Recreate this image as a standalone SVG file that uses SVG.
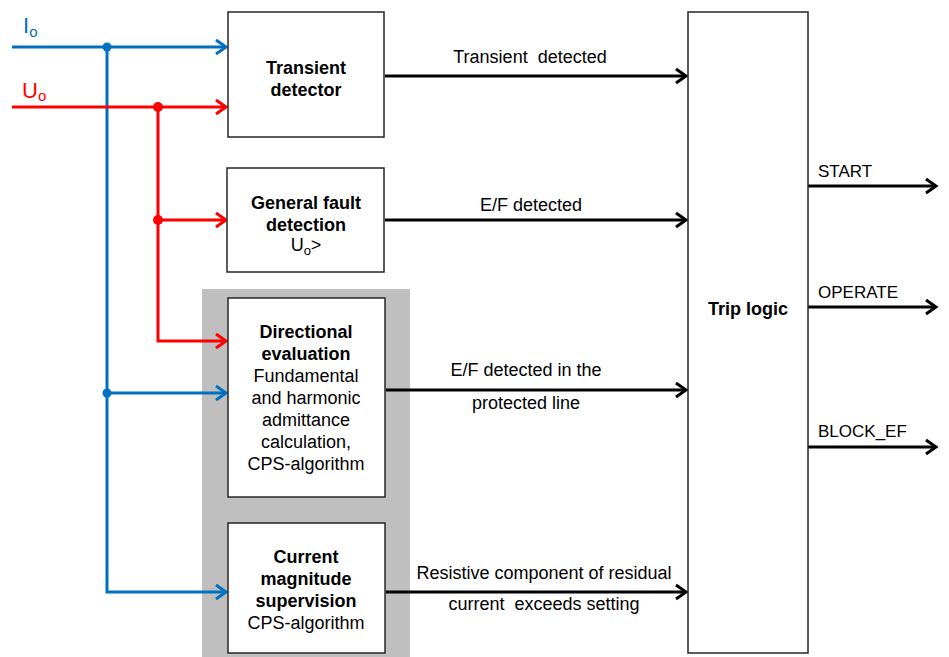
<svg xmlns="http://www.w3.org/2000/svg" width="949" height="657" viewBox="0 0 949 657">
<style>
text{font-family:"Liberation Sans",Arial,sans-serif;font-size:18px;fill:#000}
.b{font-weight:bold}
.m{text-anchor:middle}
.box{fill:#fff;stroke:#262626;stroke-width:1.5}
.k{stroke:#000;stroke-width:3;fill:none}
.bl{stroke:#0070C0;stroke-width:3;fill:none}
.rd{stroke:#FF0000;stroke-width:3;fill:none}
.lab{font-size:17px}
</style>
<defs>
<marker id="ak" markerUnits="userSpaceOnUse" markerWidth="16" markerHeight="18" refX="12" refY="8" orient="auto" overflow="visible"><path d="M2,1 L12,8 L2,15" fill="none" stroke="#000" stroke-width="3"/></marker>
<marker id="ab" markerUnits="userSpaceOnUse" markerWidth="16" markerHeight="18" refX="12" refY="8" orient="auto" overflow="visible"><path d="M2,1 L12,8 L2,15" fill="none" stroke="#0070C0" stroke-width="3"/></marker>
<marker id="ar" markerUnits="userSpaceOnUse" markerWidth="16" markerHeight="18" refX="12" refY="8" orient="auto" overflow="visible"><path d="M2,1 L12,8 L2,15" fill="none" stroke="#FF0000" stroke-width="3"/></marker>
</defs>
<rect x="0" y="0" width="949" height="657" fill="#fff"/>
<rect id="group-bg" x="202" y="289" width="208" height="368" fill="#BFBFBF"/>

<g id="inputs">
<text x="23" y="33" style="font-size:22px;fill:#0070C0">I<tspan style="font-size:15px" dy="4">o</tspan></text>
<text x="22" y="98" style="font-size:22px;fill:#FF0000">U<tspan style="font-size:15px" dy="3">o</tspan></text>
</g>

<g id="connectors">
<line class="bl" x1="12" y1="47" x2="226" y2="47" marker-end="url(#ab)"/>
<polyline class="bl" points="107,47 107,592 226,592" marker-end="url(#ab)"/>
<line class="bl" x1="107" y1="393" x2="226" y2="393" marker-end="url(#ab)"/>
<circle cx="107" cy="47" r="4.5" fill="#0070C0"/>
<circle cx="107" cy="393" r="4.5" fill="#0070C0"/>
<line class="rd" x1="12" y1="107" x2="226" y2="107" marker-end="url(#ar)"/>
<polyline class="rd" points="158,107 158,341 226,341" marker-end="url(#ar)"/>
<line class="rd" x1="158" y1="220" x2="226" y2="220" marker-end="url(#ar)"/>
<circle cx="158" cy="107" r="5" fill="#FF0000"/>
<circle cx="158" cy="220" r="5" fill="#FF0000"/>

<line class="k" x1="385" y1="76" x2="686" y2="76" marker-end="url(#ak)"/>
<line class="k" x1="385" y1="220" x2="686" y2="220" marker-end="url(#ak)"/>
<line class="k" x1="386" y1="390" x2="686" y2="390" marker-end="url(#ak)"/>
<line class="k" x1="386" y1="592" x2="686" y2="592" marker-end="url(#ak)"/>
<line class="k" x1="808" y1="186" x2="936" y2="186" marker-end="url(#ak)"/>
<line class="k" x1="808" y1="307" x2="936" y2="307" marker-end="url(#ak)"/>
<line class="k" x1="808" y1="447" x2="936" y2="447" marker-end="url(#ak)"/>

<text class="m" x="530" y="63" xml:space="preserve">Transient  detected</text>
<text class="m" x="531" y="211">E/F detected</text>
<text class="m" x="526" y="376">E/F detected in the</text>
<text class="m" x="526" y="409">protected line</text>
<text class="m" x="544" y="579">Resistive component of residual</text>
<text class="m" x="544" y="610" xml:space="preserve">current  exceeds setting</text>
<text class="lab" x="818" y="177">START</text>
<text class="lab" x="818" y="298">OPERATE</text>
<text class="lab" x="818" y="437">BLOCK_EF</text>
</g>

<g id="transient-detector">
<rect class="box" x="228" y="12" width="156" height="125"/>
<text class="b m" x="306" y="74">Transient</text>
<text class="b m" x="306" y="96">detector</text>
</g>

<g id="general-fault-detection">
<rect class="box" x="227" y="168" width="157" height="104"/>
<text class="b m" x="306" y="209">General fault</text>
<text class="b m" x="306" y="231">detection</text>
<text class="m" x="306" y="251">U<tspan style="font-size:13px" dy="4">o</tspan><tspan dy="-4">&gt;</tspan></text>
</g>

<g id="directional-evaluation">
<rect class="box" x="228" y="298" width="157" height="199"/>
<text class="b m" x="306" y="338">Directional</text>
<text class="b m" x="306" y="360">evaluation</text>
<text class="m" x="306" y="382">Fundamental</text>
<text class="m" x="306" y="404">and harmonic</text>
<text class="m" x="306" y="426">admittance</text>
<text class="m" x="306" y="448">calculation,</text>
<text class="m" x="306" y="470">CPS-algorithm</text>
</g>

<g id="current-magnitude-supervision">
<rect class="box" x="228" y="523" width="157" height="130"/>
<text class="b m" x="306" y="563">Current</text>
<text class="b m" x="306" y="585">magnitude</text>
<text class="b m" x="306" y="607">supervision</text>
<text class="m" x="306" y="629">CPS-algorithm</text>
</g>

<g id="trip-logic">
<rect class="box" x="688" y="12" width="120" height="641"/>
<text class="b m" x="748" y="315">Trip logic</text>
</g>
</svg>
